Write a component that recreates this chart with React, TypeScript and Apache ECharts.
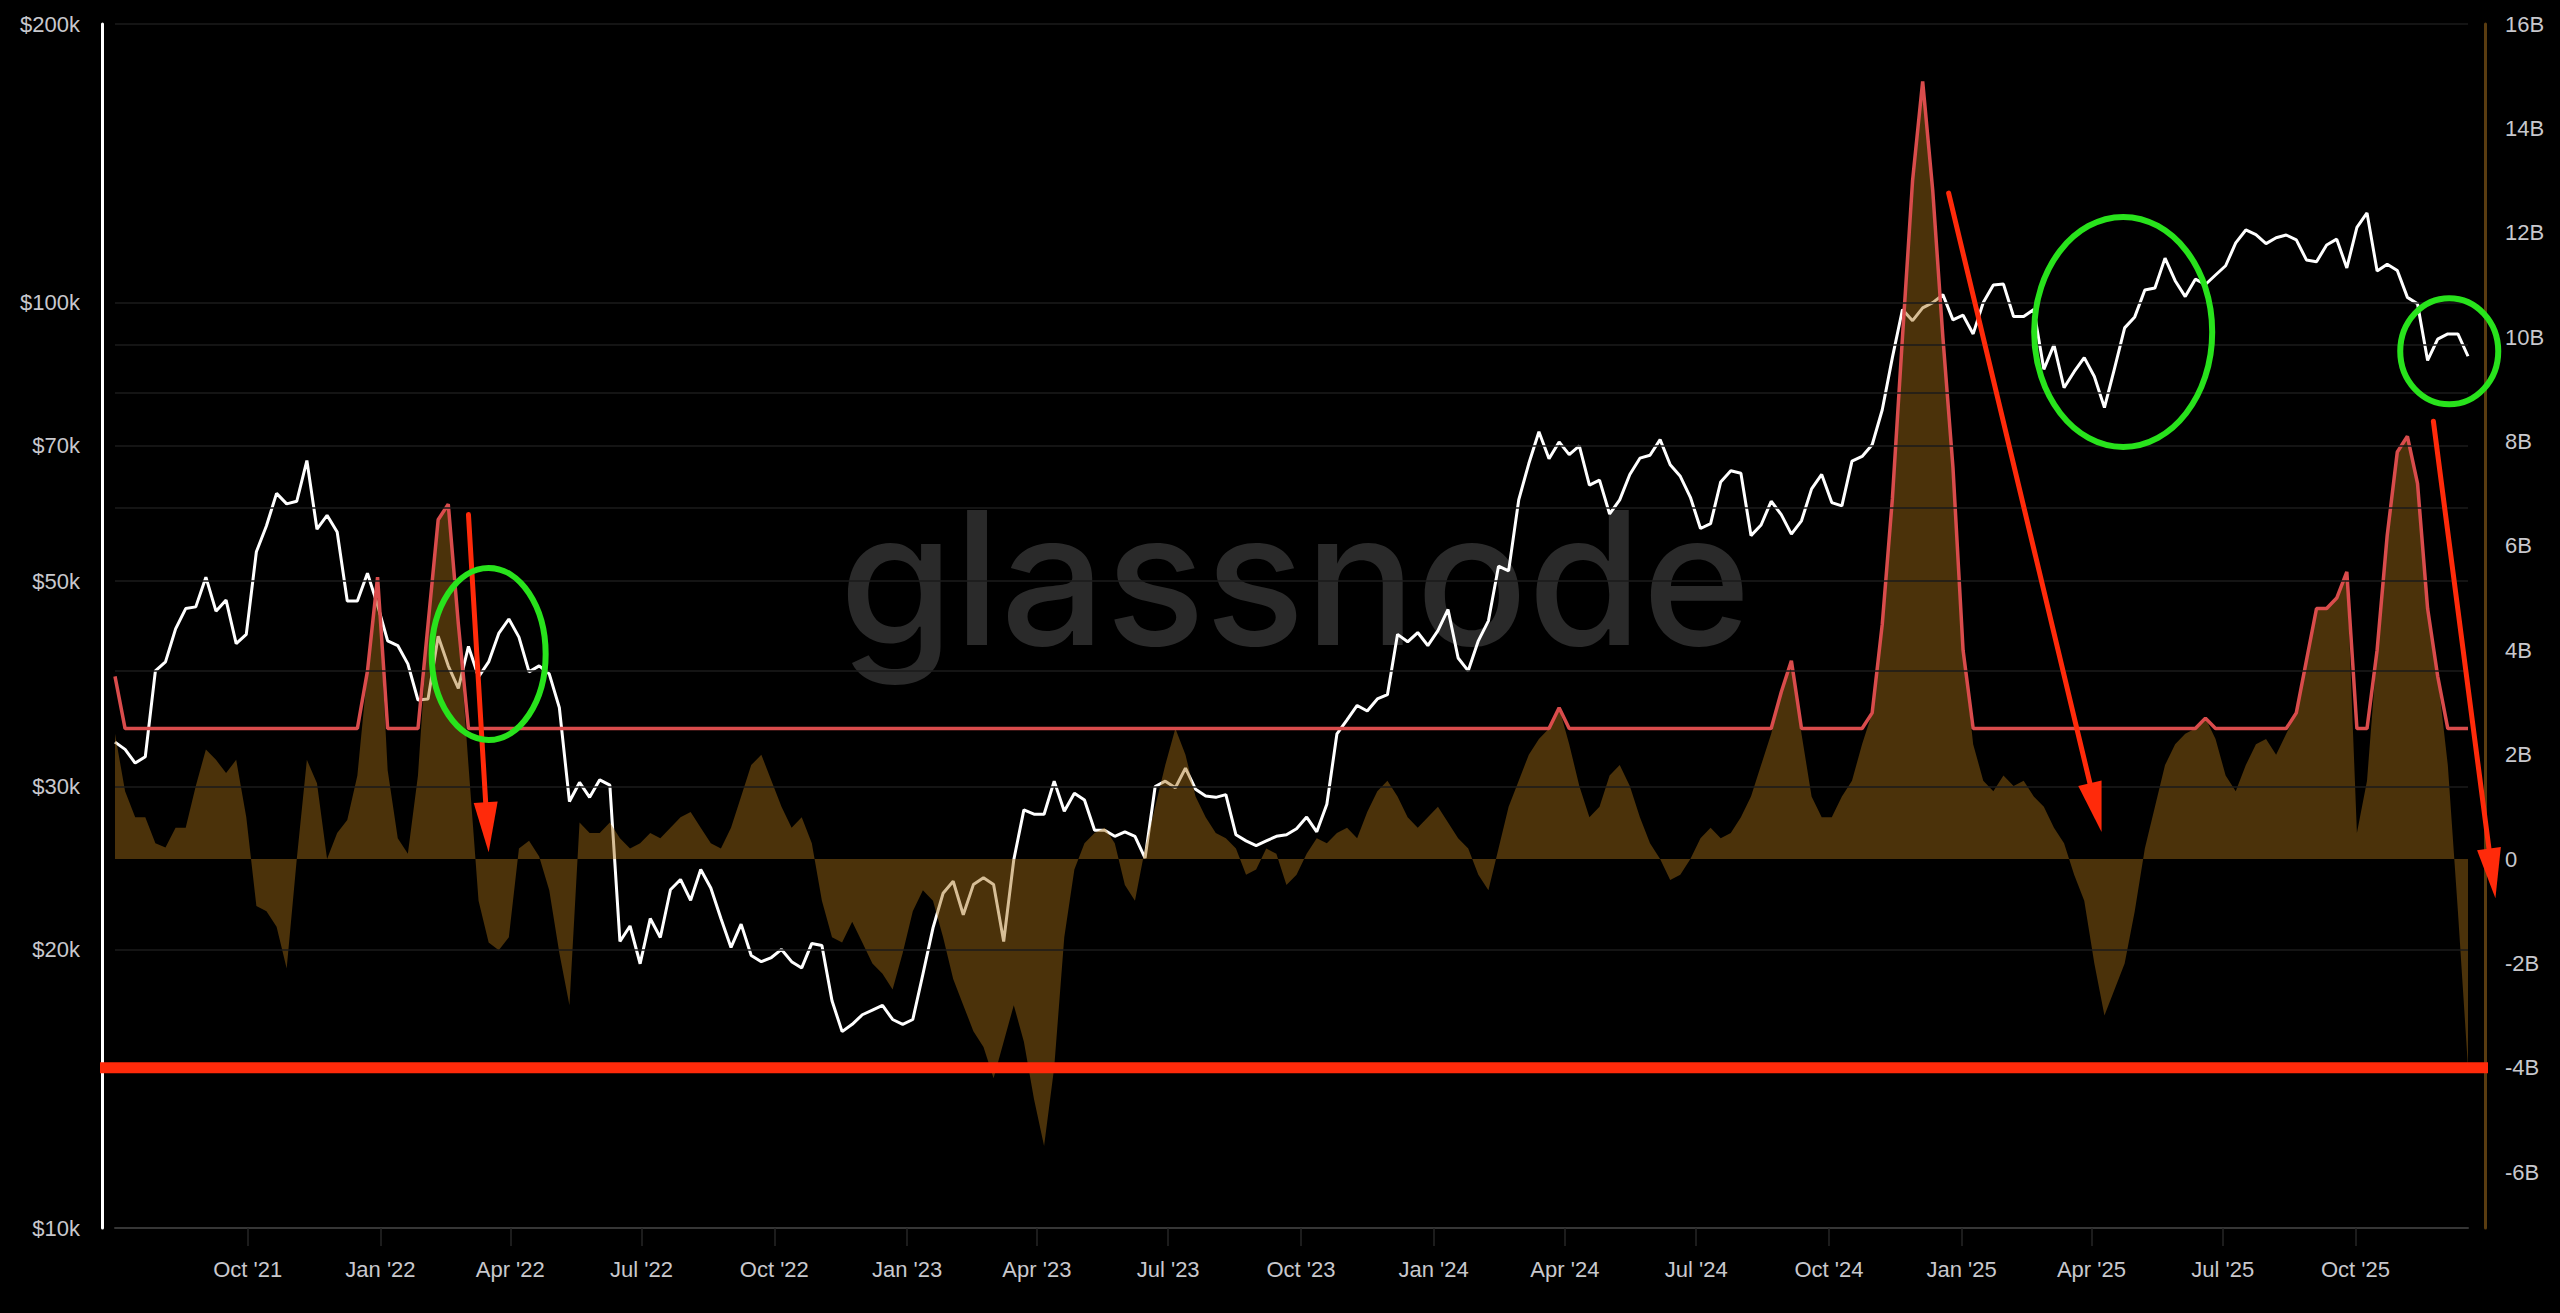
import React, { useEffect, useRef } from "react";
import * as echarts from "echarts";

// ---------- time grid: weekly points starting 2021-07-01 ----------
const START = Date.UTC(2021, 6, 1);
const DAY = 86400000;
const STEP_DAYS = 7;

// ---------- BTC price (thousand USD), weekly ----------
const price2021 = [33.5, 32.9, 31.8, 32.3, 40.0, 40.9, 44.4, 46.7, 46.9, 50.5, 46.4, 47.7, 42.8, 43.8, 53.8, 57.4, 62.2, 60.6, 61.0, 67.5, 56.9, 58.9, 56.5, 47.6, 47.6, 51.0, 47.1];
const price2022 = [43.1, 42.6, 40.7, 37.2, 37.3, 43.6, 40.5, 38.3, 42.5, 39.4, 40.9, 43.9, 45.5, 43.5, 39.9, 40.5, 39.7, 36.5, 28.9, 30.3, 29.2, 30.5, 30.1, 20.4, 21.2, 19.3, 21.6, 20.6, 23.2, 23.8, 22.6, 24.4, 23.3, 21.6, 20.1, 21.3, 19.7, 19.4, 19.6, 20.0, 19.4, 19.1, 20.3, 20.2, 17.6, 16.3, 16.6, 17.0, 17.2, 17.4, 16.8, 16.6];
const price2023 = [16.8, 18.8, 21.1, 23.0, 23.7, 21.8, 23.5, 23.9, 23.5, 20.4, 25.0, 28.3, 28.0, 28.0, 30.4, 28.2, 29.5, 29.0, 26.9, 26.9, 26.5, 26.8, 26.5, 25.1, 30.0, 30.4, 29.9, 31.4, 29.8, 29.3, 29.2, 29.4, 26.6, 26.2, 25.9, 26.2, 26.5, 26.6, 27.0, 27.8, 26.8, 28.7, 34.2, 35.4, 36.7, 36.2, 37.3, 37.7, 43.8, 43.0, 44.0, 42.6];
const price2024 = [44.2, 46.6, 41.3, 40.0, 43.1, 45.3, 51.9, 51.3, 61.2, 67.0, 72.5, 67.8, 70.7, 68.5, 70.0, 63.5, 64.3, 59.1, 61.2, 65.2, 67.9, 68.4, 71.1, 66.8, 64.9, 61.6, 57.0, 57.7, 64.0, 65.8, 65.4, 56.0, 57.5, 61.0, 59.0, 56.2, 58.1, 62.9, 65.2, 60.8, 60.3, 67.4, 68.2, 70.2, 76.6, 87.2, 98.3, 95.6, 98.7, 100.0, 102.0, 95.8];
const price2025 = [96.9, 92.5, 100.0, 104.5, 104.7, 96.6, 96.6, 98.3, 84.7, 90.0, 80.9, 84.2, 87.2, 83.2, 77.0, 84.9, 93.9, 96.5, 103.2, 103.7, 111.7, 105.6, 101.5, 106.0, 104.6, 107.1, 109.6, 116.0, 119.8, 118.4, 115.8, 117.5, 118.3, 116.9, 111.2, 110.7, 115.4, 117.1, 109.0, 120.6, 125.0, 108.2, 110.0, 108.3, 101.3, 99.7, 86.6, 91.3, 92.5, 92.5, 87.5];

// ---------- metric (billions), weekly ----------
const flow2021 = [2.4, 1.3, 0.8, 0.8, 0.3, 0.22, 0.6, 0.6, 1.4, 2.1, 1.9, 1.65, 1.9, 0.8, -0.9, -1.0, -1.3, -2.1, 0.0, 1.9, 1.45, 0.0, 0.5, 0.75, 1.6, 3.6, 5.4];
const flow2022 = [1.7, 0.4, 0.1, 1.6, 4.5, 6.5, 6.8, 4.5, 1.8, -0.8, -1.6, -1.75, -1.5, 0.2, 0.35, 0.05, -0.6, -1.8, -2.8, 0.7, 0.5, 0.5, 0.7, 0.4, 0.2, 0.3, 0.5, 0.4, 0.6, 0.8, 0.9, 0.6, 0.3, 0.2, 0.6, 1.2, 1.8, 2.0, 1.5, 1.0, 0.6, 0.8, 0.3, -0.8, -1.5, -1.6, -1.2, -1.6, -2.0, -2.2, -2.5, -1.8];
const flow2023 = [-1.0, -0.6, -0.8, -1.5, -2.3, -2.8, -3.3, -3.6, -4.2, -3.5, -2.8, -3.5, -4.6, -5.5, -4.0, -1.5, -0.2, 0.3, 0.5, 0.6, 0.3, -0.5, -0.8, 0.2, 1.0, 1.8, 2.5, 2.0, 1.2, 0.8, 0.5, 0.4, 0.2, -0.3, -0.2, 0.2, 0.1, -0.5, -0.3, 0.1, 0.4, 0.3, 0.5, 0.6, 0.4, 0.9, 1.3, 1.5, 1.2, 0.8, 0.6, 0.8];
const flow2024 = [1.0, 0.7, 0.4, 0.2, -0.3, -0.6, 0.2, 1.0, 1.5, 2.0, 2.3, 2.5, 2.9, 2.2, 1.4, 0.8, 1.0, 1.6, 1.8, 1.4, 0.8, 0.3, 0.0, -0.4, -0.3, 0.0, 0.4, 0.6, 0.4, 0.5, 0.8, 1.2, 1.8, 2.4, 3.2, 3.8, 2.4, 1.2, 0.8, 0.8, 1.2, 1.5, 2.2, 2.8, 4.5, 6.9, 10.0, 13.0, 14.9, 12.8, 10.0, 7.5];
const flow2025 = [4.0, 2.2, 1.5, 1.3, 1.6, 1.4, 1.5, 1.2, 1.0, 0.6, 0.3, -0.3, -0.8, -2.0, -3.0, -2.5, -2.0, -1.0, 0.2, 1.0, 1.8, 2.2, 2.4, 2.5, 2.7, 2.3, 1.6, 1.3, 1.8, 2.2, 2.3, 2.0, 2.4, 2.8, 3.8, 4.8, 4.8, 5.0, 5.5, 0.5, 1.5, 4.0, 6.2, 7.8, 8.1, 7.2, 4.8, 3.5, 1.8, -1.0, -4.0];

// ---------- red band (billions), weekly ----------
const band2021 = [3.5, 2.5, 2.5, 2.5, 2.5, 2.5, 2.5, 2.5, 2.5, 2.5, 2.5, 2.5, 2.5, 2.5, 2.5, 2.5, 2.5, 2.5, 2.5, 2.5, 2.5, 2.5, 2.5, 2.5, 2.5, 3.6, 5.4];
const band2022 = [2.5, 2.5, 2.5, 2.5, 4.5, 6.5, 6.8, 4.5, 2.5, 2.5, 2.5, 2.5, 2.5, 2.5, 2.5, 2.5, 2.5, 2.5, 2.5, 2.5, 2.5, 2.5, 2.5, 2.5, 2.5, 2.5, 2.5, 2.5, 2.5, 2.5, 2.5, 2.5, 2.5, 2.5, 2.5, 2.5, 2.5, 2.5, 2.5, 2.5, 2.5, 2.5, 2.5, 2.5, 2.5, 2.5, 2.5, 2.5, 2.5, 2.5, 2.5, 2.5];
const band2023 = [2.5, 2.5, 2.5, 2.5, 2.5, 2.5, 2.5, 2.5, 2.5, 2.5, 2.5, 2.5, 2.5, 2.5, 2.5, 2.5, 2.5, 2.5, 2.5, 2.5, 2.5, 2.5, 2.5, 2.5, 2.5, 2.5, 2.5, 2.5, 2.5, 2.5, 2.5, 2.5, 2.5, 2.5, 2.5, 2.5, 2.5, 2.5, 2.5, 2.5, 2.5, 2.5, 2.5, 2.5, 2.5, 2.5, 2.5, 2.5, 2.5, 2.5, 2.5, 2.5];
const band2024 = [2.5, 2.5, 2.5, 2.5, 2.5, 2.5, 2.5, 2.5, 2.5, 2.5, 2.5, 2.5, 2.9, 2.5, 2.5, 2.5, 2.5, 2.5, 2.5, 2.5, 2.5, 2.5, 2.5, 2.5, 2.5, 2.5, 2.5, 2.5, 2.5, 2.5, 2.5, 2.5, 2.5, 2.5, 3.2, 3.8, 2.5, 2.5, 2.5, 2.5, 2.5, 2.5, 2.5, 2.8, 4.5, 6.9, 10.0, 13.0, 14.9, 12.8, 10.0, 7.5];
const band2025 = [4.0, 2.5, 2.5, 2.5, 2.5, 2.5, 2.5, 2.5, 2.5, 2.5, 2.5, 2.5, 2.5, 2.5, 2.5, 2.5, 2.5, 2.5, 2.5, 2.5, 2.5, 2.5, 2.5, 2.5, 2.7, 2.5, 2.5, 2.5, 2.5, 2.5, 2.5, 2.5, 2.5, 2.8, 3.8, 4.8, 4.8, 5.0, 5.5, 2.5, 2.5, 4.0, 6.2, 7.8, 8.1, 7.2, 4.8, 3.5, 2.5, 2.5, 2.5];

const PRICE_K = [...price2021, ...price2022, ...price2023, ...price2024, ...price2025];
const FLOW_B = [...flow2021, ...flow2022, ...flow2023, ...flow2024, ...flow2025];
const BAND_B = [...band2021, ...band2022, ...band2023, ...band2024, ...band2025];
const DATES = PRICE_K.map((_, i) => START + i * STEP_DAYS * DAY);
const END = DATES[DATES.length - 1];

// ---------- axes ticks ----------
const QUARTERS = ["2021-10-01", "2022-01-01", "2022-04-01", "2022-07-01", "2022-10-01", "2023-01-01", "2023-04-01", "2023-07-01", "2023-10-01", "2024-01-01", "2024-04-01", "2024-07-01", "2024-10-01", "2025-01-01", "2025-04-01", "2025-07-01", "2025-10-01"];
const PRICE_LABELS = [10000, 20000, 30000, 50000, 70000, 100000, 200000];
const PRICE_GRID = [20000, 30000, 40000, 50000, 60000, 70000, 80000, 90000, 100000, 200000];
const FLOW_LABELS = [-6, -4, -2, 0, 2, 4, 6, 8, 10, 12, 14, 16];
const MONTHS = ["Jan", "Feb", "Mar", "Apr", "May", "Jun", "Jul", "Aug", "Sep", "Oct", "Nov", "Dec"];

// ---------- annotations (data anchors) ----------
const THRESHOLD_B = -4;
const ARROWS: [string, number, string, number][] = [
  ["2022-03-03", 6.6, "2022-03-17", 0.13],
  ["2024-12-23", 12.76, "2025-04-08", 0.52],
  ["2025-11-24", 8.39, "2026-01-06", -0.75],
];
const ELLIPSES: [string, number, number, number][] = [
  ["2022-03-17", 3.93, 57, 86],
  ["2025-04-23", 10.1, 89, 115],
  ["2025-12-05", 9.73, 49, 53],
];

const FONT = "'Liberation Sans', Arial, sans-serif";
const LABEL_COLOR = "#c8c8cd";
const RED = "#ff2a0a";
const GREEN = "#28e31c";

function fmtMonth(v: number) {
  const d = new Date(v);
  return MONTHS[d.getUTCMonth()] + " '" + String(d.getUTCFullYear()).slice(2);
}

function buildOption(logCustom: boolean): any {
  const qTicks = QUARTERS.map((s) => Date.parse(s));
  const labelBase = { color: LABEL_COLOR, fontSize: 22, fontFamily: FONT };
  return {
    animation: false,
    backgroundColor: "#000",
    grid: { left: 115, right: 92, top: 24, bottom: 85, containLabel: false, outerBoundsMode: "none" },
    xAxis: {
      type: "value",
      min: START,
      max: END,
      scale: true,
      axisLine: { show: true, onZero: false, lineStyle: { color: "#363636", width: 2 } },
      axisTick: { show: true, length: 18, customValues: qTicks, lineStyle: { color: "#262626", width: 1.5 } },
      axisLabel: {
        ...labelBase,
        customValues: qTicks,
        formatter: (v: number) => fmtMonth(v),
        margin: 30,
      },
      splitLine: { show: false },
    },
    yAxis: [
      {
        type: "log",
        logBase: 10,
        min: 10000,
        max: 200000,
        position: "left",
        offset: 13,
        axisLine: { show: true, onZero: false, lineStyle: { color: "#ffffff", width: 3 } },
        axisTick: { show: false },
        splitLine: { show: false },
        axisLabel: logCustom
          ? {
              ...labelBase,
              customValues: PRICE_LABELS,
              formatter: (v: number) => "$" + Math.round(v / 1000) + "k",
              margin: 22,
            }
          : { show: false },
      },
      {
        type: "value",
        min: -7.07,
        max: 16,
        position: "right",
        offset: 17,
        axisLine: { show: true, onZero: false, lineStyle: { color: "#5a3c10", width: 3 } },
        axisTick: { show: false },
        splitLine: { show: false },
        axisLabel: {
          ...labelBase,
          customValues: FLOW_LABELS,
          formatter: (v: number) => (v === 0 ? "0" : v + "B"),
          margin: 20,
        },
      },
    ],
    series: [
      {
        name: "Price",
        type: "line",
        yAxisIndex: 0,
        showSymbol: false,
        data: DATES.map((t, i) => [t, PRICE_K[i] * 1000]),
        lineStyle: { color: "#ffffff", width: 3 },
        z: 2,
        markLine: {
          silent: true,
          symbol: ["none", "none"],
          label: { show: false },
          lineStyle: { color: "#1b1b1b", width: 1.5, type: "solid" },
          data: PRICE_GRID.map((v) => ({ yAxis: v })),
        },
      },
      {
        name: "Flow",
        type: "line",
        yAxisIndex: 1,
        showSymbol: false,
        data: DATES.map((t, i) => [t, FLOW_B[i]]),
        lineStyle: { width: 0 },
        areaStyle: { color: "rgba(167,111,22,0.45)", opacity: 1 },
        z: 3,
      },
      {
        name: "Band",
        type: "line",
        yAxisIndex: 1,
        showSymbol: false,
        data: DATES.map((t, i) => [t, BAND_B[i]]),
        lineStyle: { color: "#d94c4c", width: 3.5 },
        z: 4,
      },
    ],
  };
}

export default function App() {
  const ref = useRef<HTMLDivElement>(null);

  useEffect(() => {
    document.body.style.margin = "0";
    document.body.style.background = "#000";
    let chart = echarts.init(ref.current!, null, { renderer: "svg" });
    let logCustom = true;
    try {
      chart.setOption(buildOption(true));
    } catch (e) {
      chart.dispose();
      chart = echarts.init(ref.current!, null, { renderer: "svg" });
      logCustom = false;
      chart.setOption(buildOption(false));
    }

    const px = (d: string | number, v: number): number[] =>
      chart.convertToPixel({ seriesIndex: 1 }, [typeof d === "string" ? Date.parse(d) : d, v]) as number[];
    const pxPrice = (v: number): number[] =>
      chart.convertToPixel({ seriesIndex: 0 }, [START, v]) as number[];

    const graphics: any[] = [];
    graphics.push({
      type: "text",
      z: 0,
      silent: true,
      style: {
        text: "glassnode",
        x: 1295,
        y: 578,
        fill: "#2a2a2a",
        fontSize: 185,
        fontFamily: "Inter",
        fontWeight: 500,
        align: "center",
        verticalAlign: "middle",
      },
    });

    if (!logCustom) {
      PRICE_LABELS.forEach((v) => {
        const p = pxPrice(v);
        graphics.push({
          type: "text",
          z: 10,
          style: {
            text: "$" + Math.round(v / 1000) + "k",
            x: p[0] - 35,
            y: p[1],
            fill: LABEL_COLOR,
            fontSize: 22,
            fontFamily: FONT,
            align: "right",
            verticalAlign: "middle",
          },
        });
      });
    }

    const yT = px(START, THRESHOLD_B)[1];
    const x0 = px(START, 0)[0];
    const x1 = px(END, 0)[0];
    graphics.push({
      type: "line",
      z: 100,
      shape: { x1: x0 - 15, y1: yT, x2: x1 + 20, y2: yT },
      style: { stroke: RED, lineWidth: 11 },
    });

    ARROWS.forEach(([ds, vs, dt, vt]) => {
      const s = px(ds, vs);
      const t = px(dt, vt);
      const dx = t[0] - s[0];
      const dy = t[1] - s[1];
      const L = Math.hypot(dx, dy);
      const ux = dx / L;
      const uy = dy / L;
      const hl = 50;
      const hw = 12;
      const bx = t[0] - ux * hl;
      const by = t[1] - uy * hl;
      graphics.push({
        type: "line",
        z: 100,
        shape: { x1: s[0], y1: s[1], x2: bx + ux * 4, y2: by + uy * 4 },
        style: { stroke: RED, lineWidth: 5, lineCap: "round" },
      });
      graphics.push({
        type: "polygon",
        z: 100,
        shape: { points: [[t[0], t[1]], [bx - uy * hw, by + ux * hw], [bx + uy * hw, by - ux * hw]] },
        style: { fill: RED },
      });
    });

    ELLIPSES.forEach(([d, v, rx, ry]) => {
      const c = px(d, v);
      graphics.push({
        type: "ellipse",
        z: 100,
        shape: { cx: c[0], cy: c[1], rx, ry },
        style: { fill: "none", stroke: GREEN, lineWidth: 6 },
      });
    });

    chart.setOption({ graphic: graphics });

    return () => chart.dispose();
  }, []);

  return <div ref={ref} style={{ width: 2560, height: 1313, background: "#000" }} />;
}
